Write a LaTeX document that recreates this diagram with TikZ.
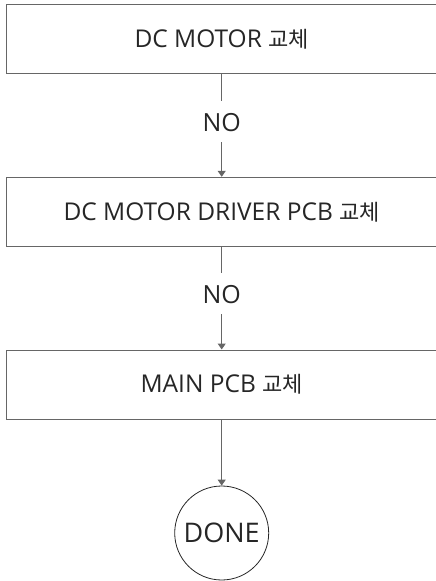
\documentclass[tikz,border=0pt]{standalone}
\usepackage{fontspec}
\setmainfont{Open Sans}
\newfontfamily\kr[Scale=0.9]{Noto Sans CJK KR}
\usetikzlibrary{arrows.meta}
\definecolor{linegray}{rgb}{0.4,0.4,0.4}
\definecolor{textgray}{rgb}{0.15,0.15,0.15}

\begin{document}
\begin{tikzpicture}[x=1pt, y=-1pt,
  stepbox/.style={draw=linegray, line width=1pt, minimum width=431pt,
    minimum height=69pt, inner sep=0pt, text=textgray,
    font=\fontsize{24.5}{29}\selectfont},
  nolabel/.style={inner sep=11pt, outer sep=0pt, text height=19.5pt,
    text depth=0pt, text=textgray, font=\fontsize{25}{30}\selectfont},
  endcircle/.style={circle, draw=textgray, line width=0.8pt,
    minimum size=94pt, inner sep=0pt, text=textgray,
    font=\fontsize{27}{32}\selectfont},
  flow/.style={draw=linegray, line width=1pt,
    -{Triangle[width=8pt,length=6pt]}}]
\useasboundingbox (0,0) rectangle (436,581);
% steps
\node[stepbox] (motor) at (221.7,39.4) {DC MOTOR {\kr 교체}};
\node[stepbox] (driver) at (221.7,211.8) {DC MOTOR DRIVER PCB {\kr 교체}};
\node[stepbox] (mainpcb) at (221.7,384.5) {MAIN PCB {\kr 교체}};
\node[endcircle] (done) at (221.7,533) {DONE};
% answers
\node[nolabel] (no1) at (221.7,121.7) {NO};
\node[nolabel] (no2) at (221.7,293.3) {NO};
% connectors
\draw[draw=linegray, line width=1pt] (motor) -- (no1);
\draw[flow] (no1) -- (driver);
\draw[draw=linegray, line width=1pt] (driver) -- (no2);
\draw[flow] (no2) -- (mainpcb);
\draw[flow] (mainpcb) -- (done);
\end{tikzpicture}
\end{document}
